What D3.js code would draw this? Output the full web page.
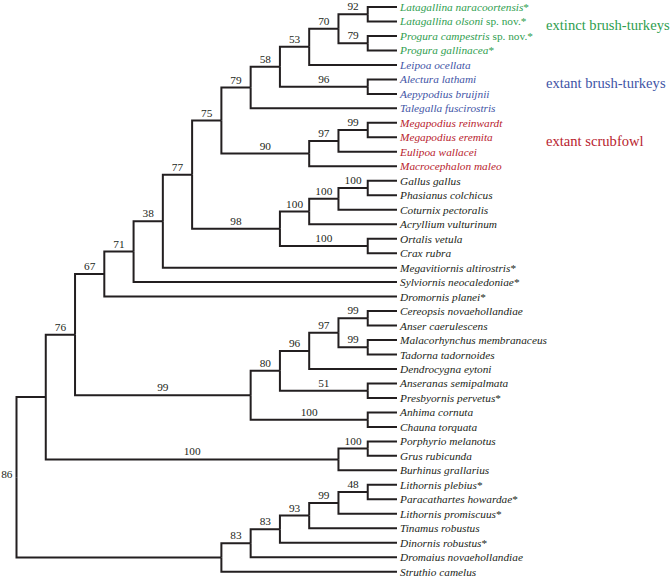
<!DOCTYPE html>
<html><head><meta charset="utf-8">
<script src="https://cdn.jsdelivr.net/npm/d3@7"></script>
<style>body{margin:0;background:#fff}</style>
</head><body><svg id="c" width="671" height="579"></svg>
<script>
// ---- data ----
const taxa = [
  "Latagallina naracoortensis","Latagallina olsoni","Progura campestris","Progura gallinacea",
  "Leipoa ocellata","Alectura lathami","Aepypodius bruijnii","Talegalla fuscirostris",
  "Megapodius reinwardt","Megapodius eremita","Eulipoa wallacei","Macrocephalon maleo",
  "Gallus gallus","Phasianus colchicus","Coturnix pectoralis","Acryllium vulturinum",
  "Ortalis vetula","Crax rubra","Megavitiornis altirostris","Sylviornis neocaledoniae",
  "Dromornis planei","Cereopsis novaehollandiae","Anser caerulescens","Malacorhynchus membranaceus",
  "Tadorna tadornoides","Dendrocygna eytoni","Anseranas semipalmata","Presbyornis pervetus",
  "Anhima cornuta","Chauna torquata","Porphyrio melanotus","Grus rubicunda",
  "Burhinus grallarius","Lithornis plebius","Paracathartes howardae","Lithornis promiscuus",
  "Tinamus robustus","Dinornis robustus","Dromaius novaehollandiae","Struthio camelus"
];
const taxonNotes = ["","sp. nov.","sp. nov.",""];
const extinctTaxa = [0,1,2,3,18,19,20,27,33,34,35,37];
const taxonGroup = ["extinct","extinct","extinct","extinct","brush","brush","brush","brush",
  "scrub","scrub","scrub","scrub"];
// topology with support values (leaves are t<index>)
const newick = "(((((((((((((t0,t1)92,(t2,t3)79)70,t4)53,(t5,t6)96)58,t7)79,(((t8,t9)99,t10)97,t11)90)75," +
  "((((t12,t13)100,t14)100,t15)100,(t16,t17)100)98)77,t18)38,t19)71,t20)67," +
  "(((((t21,t22)99,(t23,t24)99)97,t25)96,(t26,t27)51)80,(t28,t29)100)99)76," +
  "((t30,t31)100,t32)100),((((((t33,t34)48,t35)99,t36)93,t37)83,t38)83,t39))86";
const groupKeys = ["extinct","brush","scrub"];
const groupLabels = ["extinct brush-turkeys","extant brush-turkeys","extant scrubfowl"];
const groupColors = ["#2f9e4f","#3f55a6","#b8232e"];

// ---- parse ----
function parseNewick(s){
  let i=0;
  function node(){
    const n={};
    if(s[i]==='('){
      i++; n.children=[];
      n.children.push(node());
      while(s[i]===','){ i++; n.children.push(node()); }
      i++;
    }
    let lab=''; while(i<s.length && !',()'.includes(s[i])) lab+=s[i++];
    n.label=lab; return n;
  }
  return node();
}
const root = d3.hierarchy(parseNewick(newick));
d3.cluster().separation(()=>1).size([1,1])(root);
const leaves = root.leaves();
const Y = d3.scaleLinear().domain(d3.extent(leaves,d=>d.x)).range([7,571.7]);
const X = d3.scaleLinear().domain([0,1]).range([16.5,397]);

const svg = d3.select("#c");
const serif = "'Liberation Serif','Times New Roman',serif";
const ink = "#231f20";

svg.append("g").selectAll("path").data(root.descendants().filter(d=>d.parent)).join("path")
  .attr("d",d=>`M${X(d.parent.y)},${Y(d.parent.x)}V${Y(d.x)}H${X(d.y)}`)
  .attr("fill","none").attr("stroke",ink).attr("stroke-width",2);

// support values
svg.append("g").selectAll("text").data(root.descendants().filter(d=>d.parent && d.children && d.data.label)).join("text")
  .attr("x",d=>(X(d.parent.y)+X(d.y))/2).attr("y",d=>Y(d.x)-4)
  .attr("text-anchor","middle").attr("font-family",serif).attr("font-size",11.3).attr("fill",ink)
  .text(d=>d.data.label);
svg.append("text").attr("x",X(root.y)-4).attr("y",Y(root.x)+1)
  .attr("text-anchor","end").attr("font-family",serif).attr("font-size",11.3).attr("fill",ink)
  .text(root.data.label);

// leaf labels
const lt = svg.append("g").selectAll("text").data(leaves).join("text")
  .attr("x",400).attr("y",d=>Y(d.x)+4)
  .attr("font-family",serif).attr("font-size",11.3)
  .attr("fill",d=>{const k=+d.data.label.slice(1); const g=groupKeys.indexOf(taxonGroup[k]); return g>=0?groupColors[g]:ink;});
lt.each(function(d){
  const k=+d.data.label.slice(1); const t=d3.select(this);
  t.append("tspan").attr("font-style","italic").text(taxa[k]);
  if(taxonNotes[k]) t.append("tspan").text(" "+taxonNotes[k]);
  if(extinctTaxa.includes(k)) t.append("tspan").text("*");
});

// group labels
groupKeys.forEach((g,gi)=>{
  const ys = leaves.filter(d=>taxonGroup[+d.data.label.slice(1)]===g).map(d=>Y(d.x));
  svg.append("text").attr("x",546).attr("y",d3.mean(ys)+1)
    .attr("font-family",serif).attr("font-size",14.6).attr("fill",groupColors[gi])
    .text(groupLabels[gi]);
});
</script></body></html>
